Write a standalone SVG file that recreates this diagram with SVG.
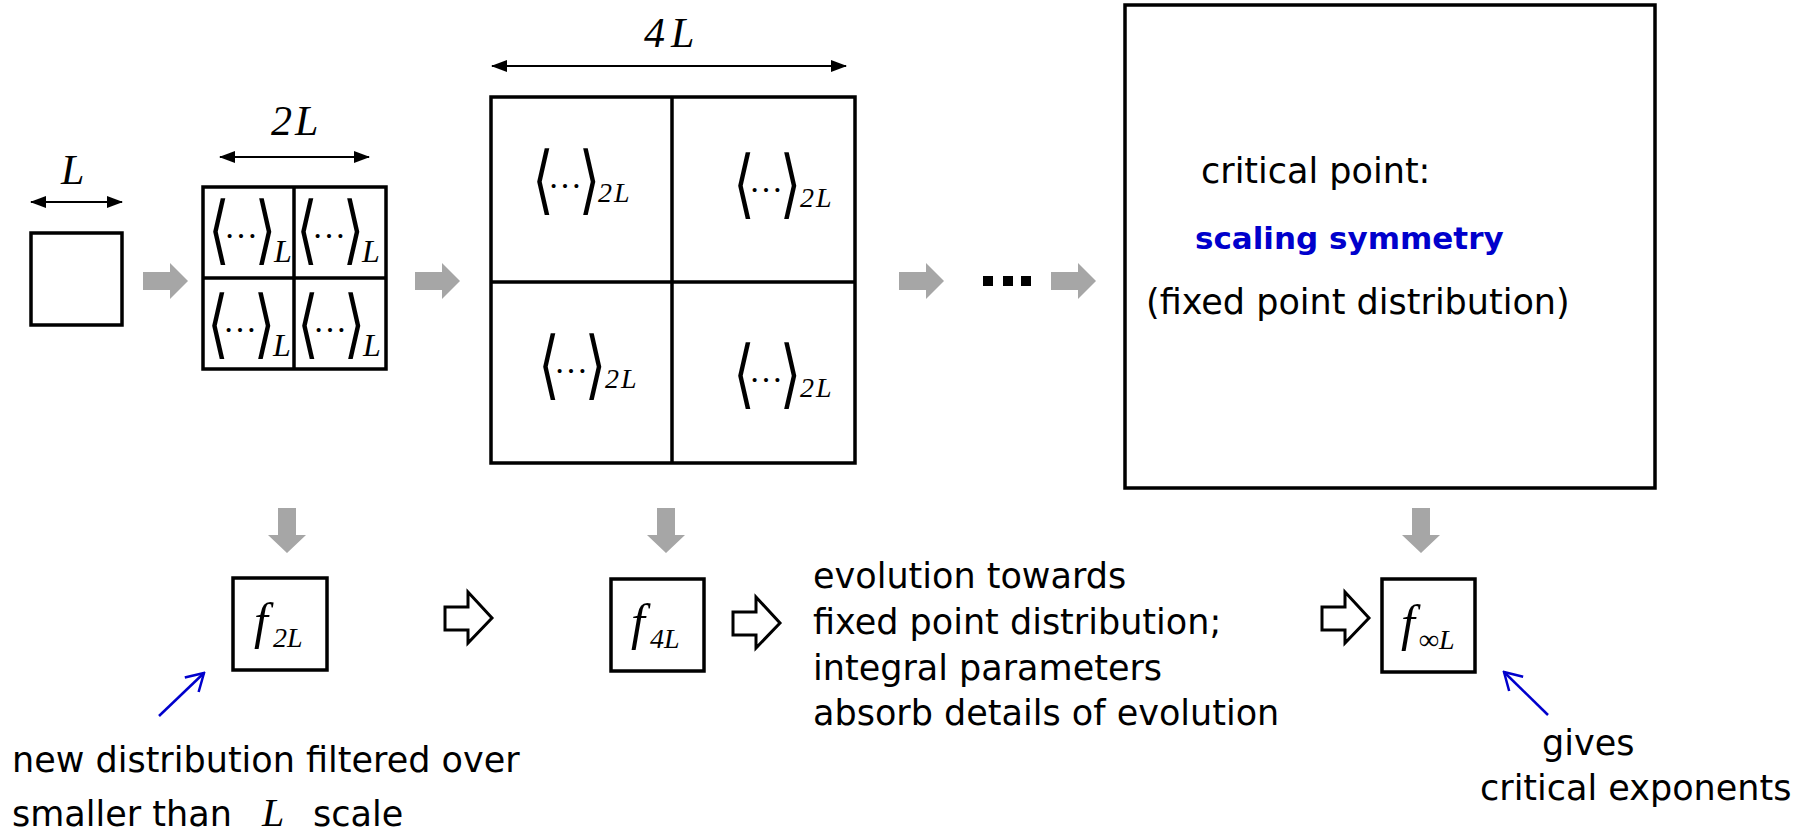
<svg xmlns="http://www.w3.org/2000/svg" width="1804" height="834" viewBox="0 0 1804 834">
<style>
.box{fill:#fff;stroke:#000;stroke-width:3.5}
.ln{stroke:#000;stroke-width:3.5;fill:none}
.gray{fill:#A6A6A6}
.hollow{fill:#fff;stroke:#000;stroke-width:3}
.blue{stroke:#0000CC;stroke-width:2.5;fill:none}
.dim{stroke:#000;stroke-width:2;fill:none}
.t{font-family:"DejaVu Sans",sans-serif;font-size:35px;fill:#000}
.tb{font-family:"DejaVu Sans",sans-serif;font-size:31px;font-weight:bold;fill:#0000CC}
.m{font-family:"Liberation Serif",serif;font-style:italic;fill:#000}
.br{font-family:"DejaVu Sans",sans-serif;font-size:44px;text-anchor:middle;fill:#000}
.dt{font-family:"Liberation Serif",serif;font-size:34px;fill:#000}
</style>
<defs>
<marker id="dh" viewBox="0 0 16 12" refX="15" refY="6" markerWidth="16" markerHeight="12" markerUnits="userSpaceOnUse" orient="auto-start-reverse">
<path d="M0,0 L16,6 L0,12 z" fill="#000"/>
</marker>
<marker id="bh" viewBox="-20 -12 22 24" refX="0" refY="0" markerWidth="22" markerHeight="24" markerUnits="userSpaceOnUse" orient="auto">
<path d="M-17,-10 L0,0 L-17,10" fill="none" stroke="#0000CC" stroke-width="2.5"/>
</marker>
<g id="ang">
<text class="br" transform="scale(1.25,1.7)" x="4.8" y="33.4">⟨</text>
<text class="dt" x="11" y="40">…</text>
<text class="br" transform="scale(1.25,1.7)" x="42" y="33.4">⟩</text>
</g>
<path id="rarr" class="gray" d="M0,9 L27,9 L27,0 L45,18 L27,36 L27,27 L0,27 z"/>
<path id="darr" class="gray" d="M-9,0 L9,0 L9,27 L19,27 L0,45 L-19,27 L-9,27 z"/>
<path id="harr" class="hollow" d="M0,15 L23,15 L23,0 L47,26 L23,51 L23,38 L0,38 z"/>
</defs>

<g id="box-L">
<rect class="box" x="31" y="233" width="91" height="92"/>
<text class="m" x="61" y="184" font-size="42">L</text>
</g>

<g id="grid-2L">
<rect class="box" x="203" y="187" width="183" height="182"/>
<line class="ln" x1="294" y1="187" x2="294" y2="369"/>
<line class="ln" x1="203" y1="278" x2="386" y2="278"/>
<text class="m" x="271" y="135" font-size="42" letter-spacing="3">2L</text>
<use href="#ang" x="213" y="198"/>
<text class="m" x="274" y="262" font-size="32">L</text>
<use href="#ang" x="301" y="198"/>
<text class="m" x="362" y="262" font-size="32">L</text>
<use href="#ang" x="212" y="292"/>
<text class="m" x="273" y="356" font-size="32">L</text>
<use href="#ang" x="302" y="292"/>
<text class="m" x="363" y="356" font-size="32">L</text>
</g>

<g id="grid-4L">
<rect class="box" x="491" y="97" width="364" height="366"/>
<line class="ln" x1="672" y1="97" x2="672" y2="463"/>
<line class="ln" x1="491" y1="282" x2="855" y2="282" stroke-width="4.5"/>
<text class="m" x="644" y="47" font-size="42" letter-spacing="6">4L</text>
<use href="#ang" x="537" y="148"/>
<text class="m" x="598" y="202" font-size="28" letter-spacing="2">2L</text>
<use href="#ang" x="738" y="152"/>
<text class="m" x="800" y="207" font-size="28" letter-spacing="2">2L</text>
<use href="#ang" x="543" y="333"/>
<text class="m" x="605" y="388" font-size="28" letter-spacing="2">2L</text>
<use href="#ang" x="738" y="342"/>
<text class="m" x="800" y="397" font-size="28" letter-spacing="2">2L</text>
</g>

<g id="ellipsis">
<rect x="983" y="276" width="10" height="10" fill="#000"/>
<rect x="1003" y="276" width="10" height="10" fill="#000"/>
<rect x="1021" y="276" width="10" height="10" fill="#000"/>
</g>

<g id="critical-box">
<rect class="box" x="1125" y="5" width="530" height="483"/>
<text class="t" x="1201" y="183">critical point:</text>
<text class="tb" x="1195" y="249">scaling symmetry</text>
<text class="t" x="1146" y="314">(fixed point distribution)</text>
</g>

<g id="f2L">
<rect class="box" x="233" y="578" width="94" height="92"/>
<text class="m" x="254" y="638" font-size="50">f</text>
<text class="m" x="273" y="647" font-size="28">2L</text>
</g>

<g id="f4L">
<rect class="box" x="611" y="579" width="93" height="92"/>
<text class="m" x="631" y="639" font-size="50">f</text>
<text class="m" x="650" y="648" font-size="28">4L</text>
</g>

<g id="finfL">
<rect class="box" x="1382" y="579" width="93" height="93"/>
<text class="m" x="1401" y="640" font-size="50">f</text>
<text class="m" x="1419" y="649" font-size="28">∞L</text>
</g>

<g id="evolution-text">
<text class="t" x="813" y="588">evolution towards</text>
<text class="t" x="813" y="634">fixed point distribution;</text>
<text class="t" x="813" y="680">integral parameters</text>
<text class="t" x="813" y="725">absorb details of evolution</text>
</g>

<g id="filter-note">
<text class="t" x="12" y="772">new distribution filtered over</text>
<text class="t" x="12" y="826">smaller than</text>
<text class="m" x="262" y="826" font-size="40">L</text>
<text class="t" x="313" y="826">scale</text>
</g>

<g id="exponent-note">
<text class="t" x="1542" y="755">gives</text>
<text class="t" x="1480" y="800">critical exponents</text>
</g>

<g id="connectors">
<line class="dim" x1="31" y1="202" x2="122" y2="202" marker-start="url(#dh)" marker-end="url(#dh)"/>
<line class="dim" x1="220" y1="157" x2="369" y2="157" marker-start="url(#dh)" marker-end="url(#dh)"/>
<line class="dim" x1="492" y1="66" x2="846" y2="66" marker-start="url(#dh)" marker-end="url(#dh)"/>
<use href="#rarr" x="143" y="263"/>
<use href="#rarr" x="415" y="263"/>
<use href="#rarr" x="899" y="263"/>
<use href="#rarr" x="1051" y="263"/>
<use href="#darr" x="287" y="508"/>
<use href="#darr" x="666" y="508"/>
<use href="#darr" x="1421" y="508"/>
<use href="#harr" x="445" y="592"/>
<use href="#harr" x="733" y="597"/>
<use href="#harr" x="1322" y="592"/>
<line class="blue" x1="159" y1="716" x2="204" y2="673" marker-end="url(#bh)"/>
<line class="blue" x1="1548" y1="715" x2="1504" y2="672" marker-end="url(#bh)"/>
</g>
</svg>
